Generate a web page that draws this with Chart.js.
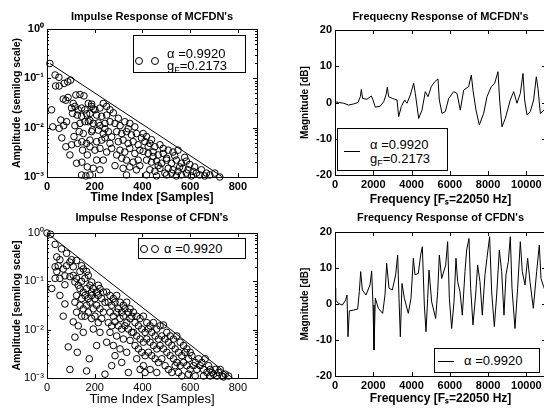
<!DOCTYPE html>
<html>
<head>
<meta charset="utf-8">
<script src="https://cdn.jsdelivr.net/npm/chart.js@4/dist/chart.umd.min.js"></script>
<style>
  body { margin: 0; width: 544px; height: 409px; overflow: hidden; background: #fff; position: relative;
         font-family: "Liberation Sans", Arial, sans-serif; }
  canvas { position: absolute; }
  .leg { position: absolute; border: 1px solid #000; background: #fff; box-sizing: border-box; z-index: 2; }
  .leg span { position: absolute; font-size: 13px; line-height: 13px; white-space: nowrap; color: #000; }
  .leg sub { font-size: 9px; vertical-align: -3px; line-height: 0; }
  .mk { position: absolute; width: 6px; height: 6px; border: 1px solid #000; border-radius: 50%; }
  .ln { position: absolute; height: 0; border-top: 1px solid #000; }
</style>
</head>
<body>
<canvas id="irMcfdn" width="304" height="205" style="left:0;top:0"></canvas>
<canvas id="frMcfdn" width="292" height="207" style="left:290px;top:0"></canvas>
<canvas id="irCfdn" width="304" height="202" style="left:0;top:207px"></canvas>
<canvas id="frCfdn" width="292" height="202" style="left:290px;top:207px"></canvas>

<div class="leg" style="left:133px;top:35px;width:113px;height:38px">
  <div class="mk" style="left:1px;top:21px"></div><div class="mk" style="left:17px;top:21px"></div>
  <span style="left:33px;top:11px">α =0.9920</span>
  <span style="left:33px;top:23px">g<sub>F</sub>=0.2173</span>
</div>
<div class="leg" style="left:337px;top:128px;width:111px;height:43px">
  <div class="ln" style="left:6px;width:16px;top:22px"></div>
  <span style="left:32px;top:9px">α =0.9920</span>
  <span style="left:32px;top:23px">g<sub>F</sub>=0.2173</span>
</div>
<div class="leg" style="left:138px;top:238px;width:108px;height:21px">
  <div class="mk" style="left:1px;top:6px"></div><div class="mk" style="left:12px;top:6px"></div>
  <span style="left:25px;top:3px">α =0.9920</span>
</div>
<div class="leg" style="left:434px;top:348px;width:106px;height:25px">
  <div class="ln" style="left:3px;width:16px;top:12px"></div>
  <span style="left:29px;top:5px">α =0.9920</span>
</div>

<script>
// Tick positions and labels
const sampleTicks = [0, 200, 400, 600, 800];
const logTicks = [0.001, 0.01, 0.1, 1];
const logTickLabels = ['10⁻³', '10⁻²', '10⁻¹', '10⁰'];
const freqTicks = [0, 2000, 4000, 6000, 8000, 10000];
const dbTicks = [-20, -10, 0, 10, 20];

// Impulse response of MCFDN's: [sample index, amplitude]
const mcfdnPts = [
  [12,0.2],[34,0.117],[50,0.105],[36,0.07],[51,0.07],[72,0.079],[87,0.085],[99,0.092],
  [68,0.038],[79,0.036],[88,0.041],[19,0.023],[58,0.0143],[82,0.0132],[24,0.0104],[51,0.0097],[70,0.011],[79,0.0041],[96,0.0028],[62,0.0062],
  [121,0.046],[138,0.047],[155,0.044],[110,0.031],[103,0.025],[117,0.027],[131,0.023],[145,0.025],[159,0.023],[107,0.0195],
  [127,0.018],[145,0.017],[166,0.019],[117,0.011],[138,0.0122],[159,0.0132],[180,0.014],[135,0.0083],[152,0.0076],[113,0.0066],
  [146,0.0052],[166,0.0048],[128,0.0048],[103,0.0045],[149,0.0035],[169,0.0028],[124,0.0019],[146,0.002],[169,0.0016],[145,0.0011],
  [163,0.00105],[187,0.03],[194,0.024],[180,0.0041],[190,0.009],
  [173,0.031],[187,0.027],[201,0.023],[222,0.025],[236,0.031],[250,0.027],[264,0.023],[180,0.0195],[208,0.018],[229,0.017],
  [250,0.018],[173,0.0132],[194,0.0122],[222,0.011],[243,0.0122],[264,0.0132],[187,0.0083],[215,0.0089],[236,0.0076],[257,0.0083],
  [180,0.0056],[208,0.0052],[229,0.0056],[264,0.0048],[201,0.0035],[222,0.0038],[250,0.0032],[208,0.0022],[236,0.0022],[194,0.0015],
  [222,0.0014],[180,0.0011],[243,0.0062],[271,0.0065],[215,0.0125],[243,0.0095],[278,0.02],[271,0.0038],
  [299,0.0155],[285,0.0122],[306,0.011],[326,0.0132],[347,0.0122],[368,0.0104],[292,0.0083],[313,0.0076],[333,0.0083],[354,0.0071],
  [375,0.0076],[299,0.0052],[319,0.0056],[340,0.0048],[361,0.0052],[382,0.0045],[306,0.0035],[326,0.0032],[347,0.0038],[368,0.003],
  [389,0.0035],[313,0.0024],[333,0.0022],[361,0.002],[382,0.0022],[319,0.0015],[347,0.0016],[375,0.0014],[333,0.0011],[292,0.0028],
  [340,0.0095],[396,0.0062],[285,0.0017],[389,0.0017],
  [403,0.0076],[417,0.0066],[410,0.0052],[431,0.0048],[452,0.0041],[473,0.0045],[487,0.0038],[403,0.0033],[424,0.003],[445,0.0032],
  [466,0.0028],[487,0.003],[417,0.0022],[438,0.002],[459,0.0021],[480,0.0019],[431,0.0014],[452,0.0013],[473,0.0015],[494,0.0012],
  [417,0.0011],[459,0.00105],[445,0.0026],[424,0.0042],[438,0.0057],[466,0.0017],[501,0.0024],
  [508,0.0035],[528,0.0032],[549,0.0035],[501,0.0022],[522,0.0019],[542,0.0022],[563,0.0019],[584,0.0021],[508,0.0015],[528,0.0014],
  [549,0.0013],[570,0.0015],[591,0.0014],[501,0.0011],[522,0.0012],[542,0.00105],[563,0.0011],[584,0.0012],[605,0.00105],[535,0.0027],
  [556,0.0016],[577,0.0025],
  [598,0.0018],[619,0.0016],[626,0.0012],[640,0.0011],[661,0.00105],[682,0.0011],[703,0.0012],[647,0.0014],[612,0.0013],[724,0.001],[668,0.0012]
];
const mcfdnEnvN = [12, 736];
const mcfdnEnvAmp = [0.2, 0.001];

// Impulse response of CFDN's: [sample index, amplitude]
const cfdnPts = [
  [0,1.0],[15,0.94],[34,0.58],[61,0.47],[82,0.38],[41,0.32],[54,0.28],[47,0.21],[34,0.2],[41,0.16],
  [68,0.18],[82,0.21],[96,0.25],[103,0.28],[110,0.2],[75,0.13],[96,0.125],[54,0.115],[34,0.115],[75,0.085],
  [54,0.051],[75,0.034],[68,0.019],[89,0.0044],[96,0.0015],[20,0.071],
  [110,0.133],[124,0.115],[138,0.16],[152,0.18],[117,0.097],[131,0.083],[145,0.1],[159,0.115],[173,0.133],[187,0.097],
  [124,0.27],[145,0.21],[166,0.16],[138,0.071],[152,0.06],[166,0.071],[180,0.083],[194,0.071],[208,0.06],[222,0.071],
  [236,0.06],[124,0.051],[145,0.044],[159,0.051],[173,0.044],[187,0.051],[201,0.044],[215,0.051],[229,0.044],[243,0.037],
  [117,0.037],[138,0.032],[152,0.027],[166,0.032],[180,0.037],[194,0.027],[208,0.032],[222,0.027],[236,0.023],[124,0.023],
  [145,0.019],[159,0.019],[173,0.023],[187,0.017],[201,0.019],[215,0.014],[229,0.017],[110,0.0145],[131,0.012],[152,0.0088],
  [117,0.007],[127,0.0034],[177,0.0025],[166,0.0014],[208,0.0047],[194,0.0103],[222,0.0088],[187,0.06],[215,0.083],
  [250,0.06],[264,0.051],[278,0.044],[292,0.051],[306,0.037],[320,0.032],[334,0.037],[348,0.027],[257,0.037],[271,0.032],
  [285,0.037],[299,0.027],[313,0.023],[327,0.027],[341,0.023],[355,0.019],[264,0.023],[278,0.019],[292,0.023],[306,0.017],
  [320,0.019],[334,0.014],[348,0.017],[257,0.014],[271,0.012],[285,0.0145],[299,0.012],[313,0.0103],[327,0.012],[341,0.0103],
  [264,0.0088],[292,0.0074],[320,0.0064],[250,0.0055],[278,0.0047],[306,0.004],[334,0.0034],[313,0.0021],[341,0.0013],[285,0.0029],
  [355,0.0088],[348,0.006],[271,0.0018],[243,0.0012],
  [362,0.023],[376,0.019],[390,0.017],[404,0.019],[418,0.014],[432,0.012],[446,0.014],[460,0.0103],[474,0.012],[488,0.0125],
  [369,0.014],[383,0.012],[397,0.0103],[411,0.0088],[425,0.0103],[439,0.0088],[453,0.0074],[467,0.0064],[481,0.0074],[495,0.0064],
  [362,0.0088],[376,0.0074],[390,0.0064],[404,0.0055],[418,0.0064],[432,0.0055],[446,0.0047],[460,0.004],[474,0.0047],[488,0.004],
  [369,0.0047],[383,0.004],[397,0.0034],[411,0.0029],[425,0.0034],[439,0.0029],[453,0.0025],[467,0.0021],[481,0.0025],[376,0.0025],
  [404,0.0018],[432,0.0015],[460,0.0013],[411,0.0013],[390,0.0015],[495,0.0018],
  [502,0.0088],[516,0.0074],[530,0.0064],[544,0.0074],[558,0.0055],[572,0.0047],[586,0.004],[600,0.0034],[509,0.0055],[523,0.0047],
  [537,0.004],[551,0.0034],[565,0.0029],[579,0.0034],[593,0.0025],[607,0.0029],[621,0.0021],[502,0.0034],[516,0.0029],[530,0.0025],
  [544,0.0021],[558,0.0018],[572,0.0021],[586,0.0018],[600,0.0015],[614,0.0018],[628,0.0015],[509,0.0015],[523,0.0013],[537,0.0018],
  [551,0.0013],[565,0.0011],[593,0.0012],[621,0.0011],[635,0.0025],
  [642,0.0018],[656,0.0015],[670,0.0013],[684,0.0015],[698,0.0012],[712,0.0011],[649,0.0021],[663,0.0025],[677,0.0018],[691,0.0013],
  [705,0.0015],[719,0.0013],[733,0.0011],[747,0.0012],[761,0.0011],[726,0.0015],[656,0.0011],[684,0.0011],[740,0.00105]
];
const cfdnEnvN = [0, 778];
const cfdnEnvAmp = [1, 0.001];

// Frequency response of MCFDN's (Hz, dB)
const mcfdnFreq = [0,192,453,714,975,1202,1324,1375,1445,1672,1898,1986,2107,2369,2543,2665,2735,2804,3013,3239,
  3327,3465,3640,3761,3936,4110,4197,4372,4546,4719,4859,5034,5208,5382,5451,5590,5764,5939,6200,6375,
  6548,6722,6984,7123,7210,7367,7541,7767,7942,8168,8342,8516,8603,8725,8899,9160,9334,9509,9683,9822,
  9909,10031,10205,10379,10519,10606,10728,10920,11025];
const mcfdnDb = [0.2,0,-0.2,-0.7,-0.4,0,1.6,3.6,1.1,0.9,1.8,0.7,-1.3,-1.0,0.2,2.1,4.2,1.6,1.1,0.7,
  -3.9,-1.1,0.7,-0.2,2.1,5.3,2.5,-4.4,-2.1,3.0,1.6,4.4,5.7,6.5,0.7,-3.0,-2.5,1.1,3.0,2.5,
  -2.1,3.4,4.4,7.6,3.4,-2.1,-6.2,-3.0,1.6,4.4,5.3,8.5,0.7,-6.7,-4.4,0.7,3.0,-0.2,2.5,8.0,
  0.7,-3.4,-2.5,0.7,7.1,3.9,-3.0,-2.1,-1.0];

// Frequency response of CFDN's (Hz, dB)
const cfdnFreq = [0,34,174,383,557,627,679,749,958,1184,1271,1341,1428,1620,1829,1916,1986,2037,2107,2264,
  2490,2612,2699,2821,2995,3169,3274,3344,3414,3501,3623,3831,3971,4093,4180,4354,4476,4563,4668,4755,
  4842,4912,5051,5261,5365,5452,5574,5783,5887,5974,6096,6218,6322,6409,6531,6653,6792,6879,7001,7088,
  7210,7348,7453,7575,7697,7836,7940,8080,8185,8325,8447,8586,8708,8830,8934,9057,9161,9248,9404,9544,
  9683,9787,9927,10066,10189,10363,10536,10676,10763,10902,11025];
const cfdnDb = [4.4,1.1,0.2,-0.3,1.1,2.5,-9.1,-1.9,-1.7,-1.4,3.4,9.0,3.9,2.5,5.3,9.2,-0.3,-12.8,1.6,-1.2,
  -2.6,2.5,11.3,4.4,3.9,8.1,13.6,1.6,-9.1,5.7,1.6,-2.6,1.6,12.7,8.1,8.5,13.6,15.9,-0.3,-7.7,
  1.6,9.4,0.6,-4.0,3.4,13.6,7.1,10.8,17.3,1.6,-6.8,0.6,12.7,6.2,3.4,-3.1,9.0,15.0,18.2,4.4,
  -5.8,2.5,10.8,6.2,-3.1,8.1,12.7,18.7,3.4,-6.3,2.5,15.0,9.0,-3.1,8.1,11.8,18.7,4.4,-6.8,4.4,
  17.3,9.0,5.3,12.7,6.2,-1.2,9.0,16.4,7.1,4.8,3.0];

const FONT = 'Liberation Sans, Arial, Helvetica, sans-serif';
const font = (size, bold) => ({ family: FONT, size: size, weight: bold ? 'bold' : 'normal', lineHeight: 1.2 });

// Draws the MATLAB style box with inward tick marks
const framePlugin = {
  id: 'frame',
  afterDatasetsDraw(chart) {
    const { ctx, chartArea: a, scales } = chart;
    const x = scales.x, y = scales.y;
    ctx.save();
    ctx.strokeStyle = '#000';
    ctx.lineWidth = 1;
    ctx.strokeRect(Math.round(a.left) + 0.5, Math.round(a.top) + 0.5,
      Math.round(a.right - a.left), Math.round(a.bottom - a.top));
    const seg = (x1, y1, x2, y2) => { ctx.beginPath(); ctx.moveTo(x1, y1); ctx.lineTo(x2, y2); ctx.stroke(); };
    x.ticks.forEach(t => {
      const px = Math.round(x.getPixelForValue(t.value)) + 0.5;
      seg(px, a.bottom, px, a.bottom - 4);
      seg(px, a.top, px, a.top + 4);
    });
    y.ticks.forEach(t => {
      const py = Math.round(y.getPixelForValue(t.value)) + 0.5;
      seg(a.left, py, a.left + 4, py);
      seg(a.right, py, a.right - 4, py);
    });
    if (y.type === 'logarithmic') {
      for (let d = 0.001; d < 1; d *= 10) {
        for (let k = 2; k < 10; k++) {
          const py = Math.round(y.getPixelForValue(d * k)) + 0.5;
          seg(a.left, py, a.left + 2, py);
          seg(a.right, py, a.right - 2, py);
        }
      }
    }
    ctx.restore();
  }
};

function axisCommon(ticks, bold) {
  return {
    grid: { display: false, drawTicks: false },
    border: { display: false },
    afterBuildTicks: s => { s.ticks = ticks.map(v => ({ value: v })); },
    ticks: { color: '#000', font: font(11, bold), padding: 3, maxRotation: 0, autoSkip: false,
             callback: v => String(v) },
  };
}

function impulseChart(id, pts, envN, envAmp, o) {
  const xAxis = axisCommon(sampleTicks, o.bold);
  xAxis.type = 'linear';
  xAxis.min = 0;
  xAxis.max = 880;
  xAxis.title = { display: true, text: 'Time Index [Samples]', color: '#000', font: font(o.bold ? 12 : 13, o.bold), padding: { top: 0, bottom: o.xTitlePad } };
  xAxis.afterFit = s => { s.height = o.xHeight; };

  const yAxis = axisCommon(logTicks, o.bold);
  yAxis.type = 'logarithmic';
  yAxis.min = 0.001;
  yAxis.max = 1;
  yAxis.ticks.callback = v => logTickLabels[logTicks.indexOf(v)];
  yAxis.title = { display: true, text: o.yTitle, color: '#000', font: font(10.5, true), padding: { top: 10.5, bottom: 0 } };
  yAxis.afterFit = s => { s.width = 47; };

  return new Chart(document.getElementById(id), {
    type: 'scatter',
    data: {
      datasets: [
        {
          data: pts.map(p => ({ x: p[0], y: p[1] })),
          pointStyle: 'circle',
          pointRadius: 3.3,
          pointBorderWidth: 1,
          pointBorderColor: '#000',
          pointBackgroundColor: 'rgba(0,0,0,0)',
          showLine: false,
          clip: false,
        },
        {
          data: envN.map((n, i) => ({ x: n, y: envAmp[i] })),
          showLine: true,
          borderColor: '#000',
          borderWidth: 1,
          pointRadius: 0,
        },
      ],
    },
    options: {
      responsive: false,
      animation: false,
      devicePixelRatio: 1,
      layout: { padding: { left: 0, right: 47, top: 0, bottom: 0 } },
      plugins: {
        legend: { display: false },
        tooltip: { enabled: false },
        title: { display: true, fullSize: false, text: o.title, color: '#000', font: font(11, true), padding: o.titlePad },
      },
      scales: { x: xAxis, y: yAxis },
    },
    plugins: [framePlugin],
  });
}

function freqChart(id, freq, db, o) {
  const xAxis = axisCommon(freqTicks, true);
  xAxis.type = 'linear';
  xAxis.min = 0;
  xAxis.max = 11025;
  xAxis.title = { display: true, text: 'Frequency [Fₛ=22050 Hz]', color: '#000', font: font(12, true), padding: { top: 0, bottom: o.xTitlePad } };
  xAxis.afterFit = s => { s.height = o.xHeight; };

  const yAxis = axisCommon(dbTicks, true);
  yAxis.type = 'linear';
  yAxis.min = -20;
  yAxis.max = 20;
  yAxis.title = { display: true, text: 'Magnitude [dB]', color: '#000', font: font(10, true), padding: { top: 9, bottom: 0 } };
  yAxis.afterFit = s => { s.width = 45; };

  return new Chart(document.getElementById(id), {
    type: 'line',
    data: {
      datasets: [{
        data: freq.map((f, i) => ({ x: f, y: db[i] })),
        borderColor: '#000',
        borderWidth: 1,
        pointRadius: 0,
        tension: 0,
      }],
    },
    options: {
      responsive: false,
      animation: false,
      devicePixelRatio: 1,
      // plot box runs to x = 546, just past the right edge of the page
      layout: { padding: { left: 0, right: 36, top: 0, bottom: 0 } },
      plugins: {
        legend: { display: false },
        tooltip: { enabled: false },
        title: { display: true, fullSize: false, text: o.title, color: '#000', font: font(11, true), padding: o.titlePad },
      },
      scales: { x: xAxis, y: yAxis },
    },
    plugins: [framePlugin],
  });
}

impulseChart('irMcfdn', mcfdnPts, mcfdnEnvN, mcfdnEnvAmp, {
  title: "Impulse Response of MCFDN's", yTitle: 'Amplitude (semilog scale)', bold: true,
  titlePad: { top: 10.5, bottom: 5.3 }, xHeight: 28, xTitlePad: 0,
});
freqChart('frMcfdn', mcfdnFreq, mcfdnDb, {
  title: "Frequecny Response of MCFDN's",
  titlePad: { top: 10.5, bottom: 6.3 }, xHeight: 32, xTitlePad: 0,
});
impulseChart('irCfdn', cfdnPts, cfdnEnvN, cfdnEnvAmp, {
  title: "Impulse Response of CFDN's", yTitle: 'Amplitude [semilog scale]', bold: false,
  titlePad: { top: 4.5, bottom: 8.3 }, xHeight: 31, xTitlePad: 1.5,
});
freqChart('frCfdn', cfdnFreq, cfdnDb, {
  title: "Frequency Response of CFDN's",
  titlePad: { top: 4.5, bottom: 7.3 }, xHeight: 33, xTitlePad: 3.5,
});
</script>
</body>
</html>
